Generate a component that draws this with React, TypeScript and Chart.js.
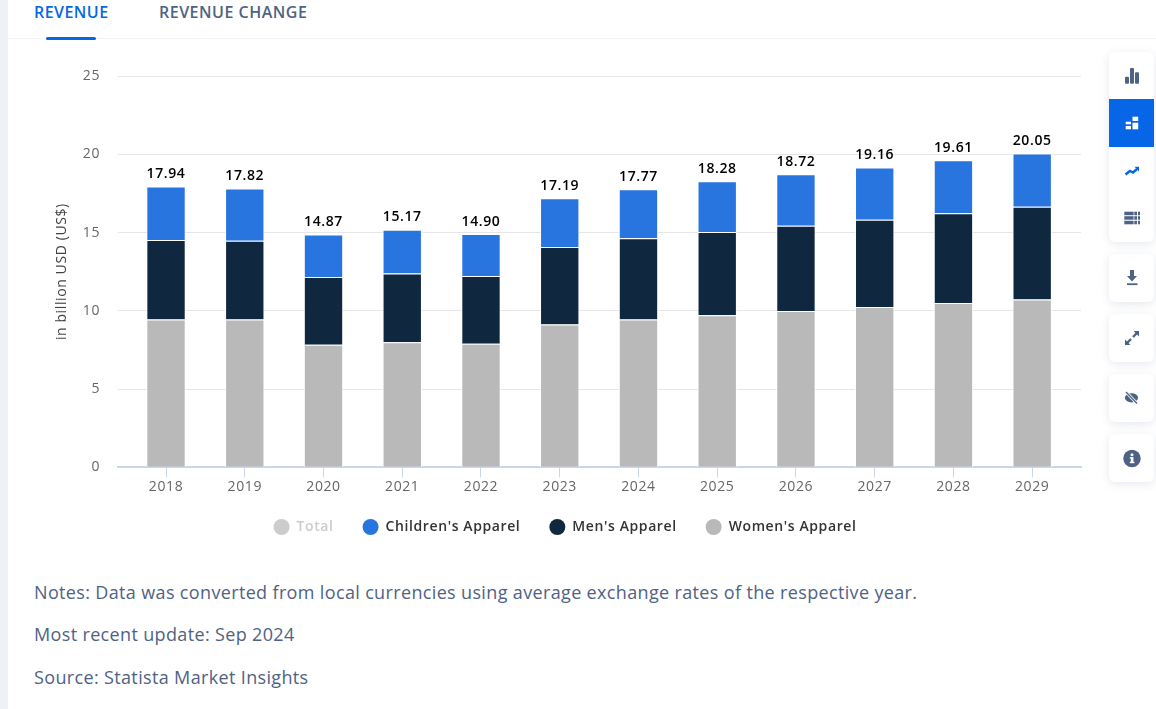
import React, { useEffect, useRef } from "react";
import { Chart, registerables } from "chart.js";

Chart.register(...registerables);

const years = ["2018","2019","2020","2021","2022","2023","2024","2025","2026","2027","2028","2029"];
const totals = [17.94,17.82,14.87,15.17,14.90,17.19,17.77,18.28,18.72,19.16,19.61,20.05];
const womens = [9.44,9.44,7.83,7.99,7.90,9.12,9.44,9.72,9.98,10.24,10.49,10.72];
const mens = [5.09,5.03,4.33,4.39,4.32,4.96,5.19,5.32,5.45,5.57,5.74,5.93];
const childrens = [3.41,3.35,2.71,2.79,2.68,3.11,3.14,3.24,3.29,3.35,3.38,3.40];
const yTicks = [0,5,10,15,20,25];
const notes = [
  "Notes: Data was converted from local currencies using average exchange rates of the respective year.",
  "Most recent update: Sep 2024",
  "Source: Statista Market Insights",
];

const FONT = "'Open Sans', sans-serif";
const SLATE = "#4e6384";
const BLUE = "#0666e5";

const setSpacing = (chart: any) => { chart.ctx.letterSpacing = "0.6px"; };

const totalLabels = {
  id: "totalLabels",
  beforeUpdate: setSpacing,
  beforeDraw: setSpacing,
  afterDatasetsDraw(chart: any) {
    const { ctx, scales } = chart;
    ctx.save();
    ctx.font = `600 14px ${FONT}`;
    ctx.fillStyle = "#000000";
    ctx.textAlign = "center";
    ctx.textBaseline = "bottom";
    totals.forEach((v, i) => {
      ctx.fillText(v.toFixed(2), scales.x.getPixelForValue(Number(years[i])), scales.y.getPixelForValue(v) - 5.4);
    });
    ctx.restore();
  },
};

function Side({ top, height, children }: any) {
  return (
    <div style={{ position: "absolute", left: 1109, top, width: 45, height, background: "#fff", borderRadius: 6,
      boxShadow: "0 2px 10px rgba(60,80,120,0.13)" }}>{children}</div>
  );
}
function Ico({ top, bg, children }: any) {
  return (
    <svg width={45} height={48} viewBox="0 0 45 48" style={{ position: "absolute", left: 0, top, background: bg || "transparent", display: "block" }}>{children}</svg>
  );
}

export default function App() {
  const ref = useRef<HTMLCanvasElement>(null);
  useEffect(() => {
    document.body.style.margin = "0";
    const chart = new Chart(ref.current!, {
      type: "bar",
      data: {
        labels: years,
        datasets: [
          { label: "Women's Apparel", data: womens, backgroundColor: "#b9b9b9" },
          { label: "Men's Apparel", data: mens, backgroundColor: "#0f2840" },
          { label: "Children's Apparel", data: childrens, backgroundColor: "#2975e0" },
          { label: "Total", data: totals, backgroundColor: "#cccccc", hidden: true },
        ].map((d) => ({ ...d, borderColor: "#ffffff", borderWidth: 1, barPercentage: 0.5, categoryPercentage: 1 })) as any,
      },
      plugins: [totalLabels],
      options: {
        animation: false,
        responsive: false,
        layout: { padding: { top: 36, bottom: 6, left: 0, right: 0 } },
        plugins: {
          tooltip: { enabled: false },
          legend: {
            position: "bottom",
            onClick: () => {},
            labels: {
              usePointStyle: true,
              pointStyleWidth: 16,
              boxHeight: 11.3,
              padding: 29,
              font: { family: FONT, size: 14, weight: 600 },
              color: "#333333",
              sort: (a: any, b: any) => b.datasetIndex - a.datasetIndex,
              generateLabels: (c: any) =>
                c.data.datasets.map((d: any, i: number) => ({
                  text: d.label,
                  datasetIndex: i,
                  hidden: false,
                  fillStyle: d.backgroundColor,
                  strokeStyle: d.backgroundColor,
                  lineWidth: 0,
                  pointStyle: "circle",
                  fontColor: d.hidden ? "#cccccc" : "#333333",
                })),
            },
          },
        },
        scales: {
          x: {
            type: "linear",
            stacked: true,
            offset: false,
            min: 2017.39,
            max: 2029.62,
            afterBuildTicks: (s: any) => { s.ticks = years.map((y) => ({ value: Number(y) })); },
            afterFit: (s: any) => { s.height = 23.7; },
            border: { color: "#ccd6eb", width: 2 },
            grid: { display: true, offset: false, drawOnChartArea: false, drawTicks: true, tickLength: 10, tickColor: "#ccd6eb" },
            ticks: { color: "#666666", padding: 1, maxRotation: 0, callback: (v: any) => String(v), font: { family: FONT, size: 14 } },
          },
          y: {
            stacked: true,
            min: 0,
            max: 25,
            afterBuildTicks: (s: any) => { s.ticks = yTicks.map((value) => ({ value })); },
            afterFit: (s: any) => { s.width = 118; },
            border: { display: false },
            grid: { color: "#e6e6e6", drawTicks: false },
            ticks: { color: "#666666", padding: 18, font: { family: FONT, size: 14 } },
            title: { display: true, text: "in billion USD (US$)", color: "#444444", padding: { top: 54, bottom: 0 }, font: { family: FONT, size: 14 } },
          },
          gap: {
            type: "linear",
            position: "right",
            afterFit: (s: any) => { s.width = 49; },
            grid: { display: false },
            border: { display: false },
            ticks: { display: false },
          },
        },
      } as any,
    });
    return () => chart.destroy();
  }, []);

  const noteTops = [580, 622, 665];
  return (
    <div style={{ position: "fixed", left: 0, top: 0, width: 1156, height: 709, background: "#fff", overflow: "hidden", fontFamily: FONT }}>
      <div style={{ position: "absolute", left: 0, top: 0, width: 8, height: 709, background: "#eef1f6" }} />
      <div style={{ position: "absolute", left: 8, top: 38, width: 1148, height: 1, background: "#f1f4f8" }} />
      <div style={{ position: "absolute", left: 34, top: 0, fontSize: 16, lineHeight: "24px", fontWeight: 600, letterSpacing: "0.45px", color: BLUE }}>REVENUE</div>
      <div style={{ position: "absolute", left: 159, top: 0, fontSize: 16, lineHeight: "24px", fontWeight: 600, letterSpacing: "0.5px", color: SLATE }}>REVENUE CHANGE</div>
      <div style={{ position: "absolute", left: 46, top: 37, width: 50, height: 3, borderRadius: 2, background: BLUE }} />

      <canvas ref={ref} width={1130} height={510} style={{ position: "absolute", left: 0, top: 40, width: 1130, height: 510 }} />

      {notes.map((n, i) => (
        <div key={n} style={{ position: "absolute", left: 34, top: noteTops[i], fontSize: 18, lineHeight: "24px", letterSpacing: "0.35px", color: SLATE, whiteSpace: "nowrap" }}>{n}</div>
      ))}

      <Side top={52} height={190}>
        <Ico top={0}>
          <g fill={SLATE}>
            <rect x="16" y="24.7" width="4" height="7" rx="1" />
            <rect x="21" y="16" width="4" height="15.7" rx="1" />
            <rect x="26" y="20.3" width="4" height="11.4" rx="1" />
          </g>
        </Ico>
        <Ico top={47} bg={BLUE}>
          <g fill="#fff">
            <rect x="16.7" y="22.7" width="5.3" height="2.6" />
            <rect x="16.7" y="27" width="5.3" height="3.3" />
            <rect x="23.5" y="17.7" width="5.7" height="4.3" />
            <rect x="23.5" y="23.7" width="5.7" height="6.6" />
          </g>
        </Ico>
        <Ico top={95}>
          <path d="M16.5 27.5 L21 24 L24 25.5 L28 22" fill="none" stroke={BLUE} strokeWidth="2.4" />
          <path d="M25.5 19.7 L30 19.7 L30 24.5 Z" fill={BLUE} />
        </Ico>
        <Ico top={142}>
          <g fill={SLATE}>
            <rect x="15.3" y="17.7" width="9.3" height="3.5" /><rect x="25.3" y="17.7" width="2.7" height="3.5" /><rect x="29" y="17.7" width="2" height="3.5" />
            <rect x="15.3" y="22.2" width="9.3" height="3.5" /><rect x="25.3" y="22.2" width="2.7" height="3.5" /><rect x="29" y="22.2" width="2" height="3.5" />
            <rect x="15.3" y="26.8" width="9.3" height="3.5" /><rect x="25.3" y="26.8" width="2.7" height="3.5" /><rect x="29" y="26.8" width="2" height="3.5" />
          </g>
        </Ico>
      </Side>
      <Side top={254} height={48}>
        <Ico top={0}>
          <path d="M21 16 H25 V22 H28 L23 27.5 L18 22 H21 Z" fill={SLATE} />
          <rect x="18" y="29.3" width="10.5" height="1.8" fill={SLATE} />
        </Ico>
      </Side>
      <Side top={314} height={48}>
        <Ico top={0}>
          <path d="M24.5 17 L30 17 L30 22.5 Z M16 25.5 L21.5 31 L16 31 Z" fill={SLATE} />
          <path d="M18 29 L22 25 M24 23 L28 19" stroke={SLATE} strokeWidth="2.4" />
        </Ico>
      </Side>
      <Side top={374} height={48}>
        <Ico top={0}>
          <ellipse cx="22.5" cy="23.8" rx="6.6" ry="4.6" fill={SLATE} />
          <path d="M17 18 L28 29.5" stroke="#fff" strokeWidth="3" />
          <path d="M17 18 L28 29.5" stroke={SLATE} strokeWidth="1.3" />
        </Ico>
      </Side>
      <Side top={434} height={48}>
        <Ico top={0}>
          <circle cx="23" cy="24.5" r="8.7" fill={SLATE} />
          <rect x="21.8" y="23.5" width="2.6" height="5.5" fill="#fff" />
          <rect x="20.8" y="27.8" width="4.6" height="1.4" fill="#fff" />
          <rect x="20.8" y="23.2" width="3.5" height="1.3" fill="#fff" />
          <circle cx="23" cy="20.8" r="1.5" fill="#fff" />
        </Ico>
      </Side>
    </div>
  );
}
